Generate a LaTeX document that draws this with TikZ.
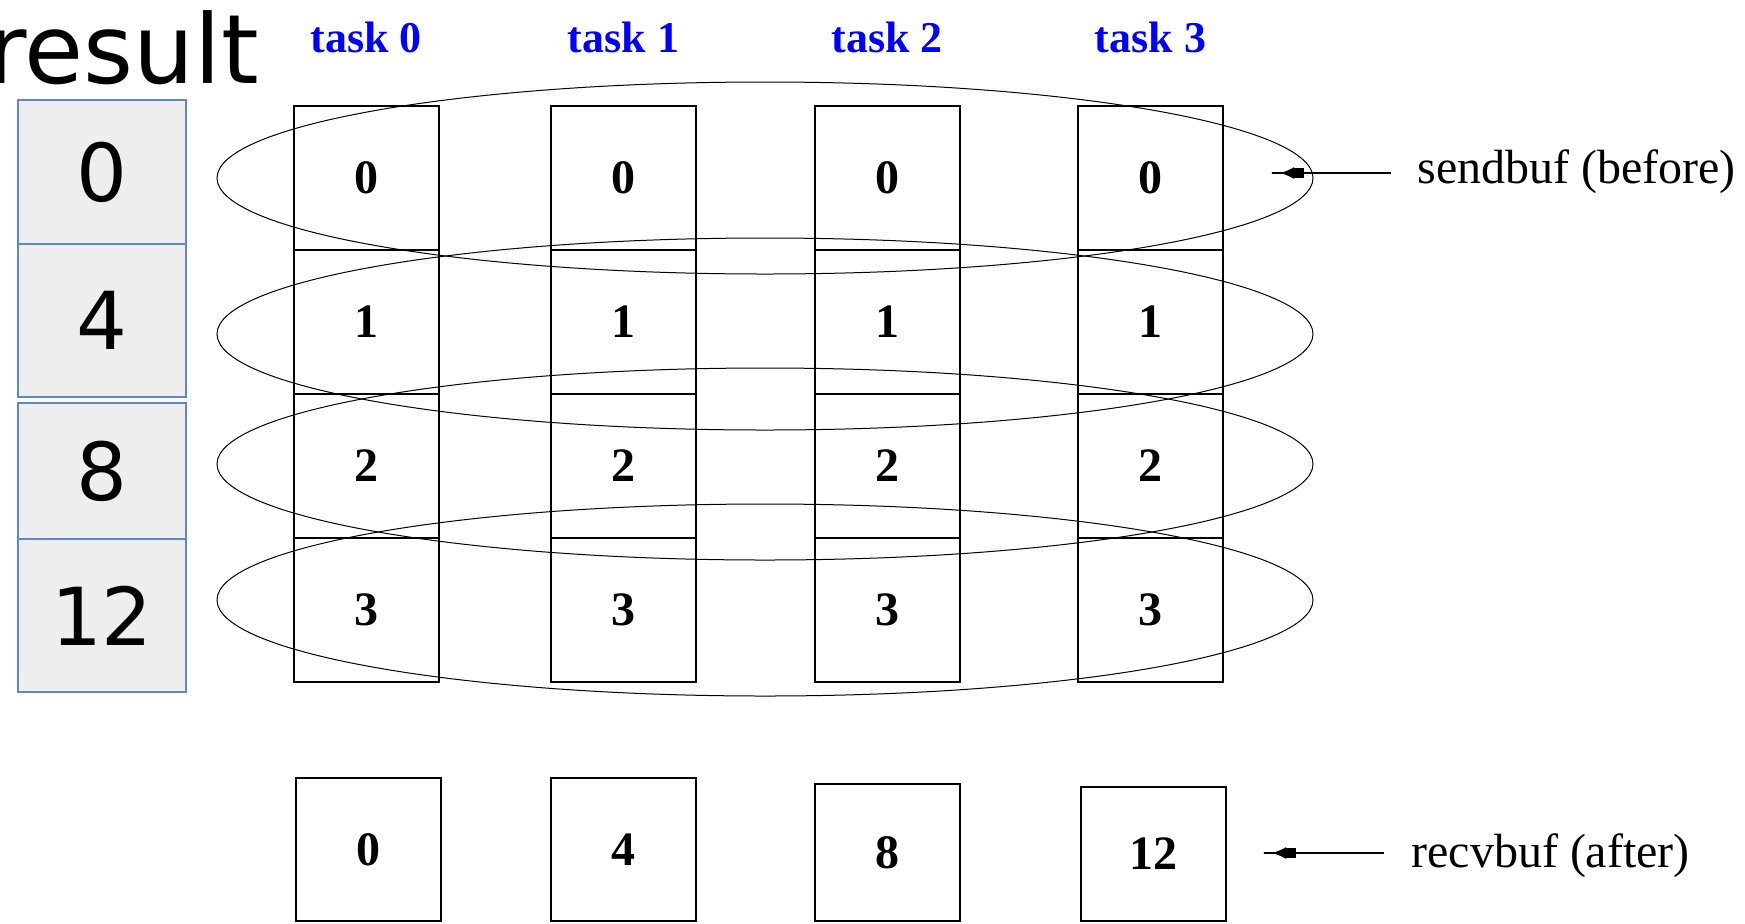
\documentclass[tikz,border=0pt]{standalone}
\usepackage{fontspec}
\setmainfont{Liberation Serif}
\newfontfamily\dejavu{DejaVu Sans}
\usetikzlibrary{arrows.meta}
\definecolor{cellfill}{RGB}{238,238,238}
\definecolor{celledge}{RGB}{95,135,200}
\definecolor{tasklabel}{RGB}{0,0,255}
\tikzset{
  buf/.style={draw=black, line width=1pt, minimum width=72.5pt, minimum height=72pt,
    inner sep=0pt, font=\bfseries\fontsize{24pt}{28pt}\selectfont},
  rescell/.style={draw=celledge, fill=cellfill, line width=0.7pt, minimum width=84pt,
    inner sep=0pt, font=\dejavu\fontsize{40pt}{46pt}\selectfont},
  tasktitle/.style={anchor=base, inner sep=0pt, text=tasklabel,
    font=\bfseries\fontsize{22pt}{26pt}\selectfont},
  note/.style={anchor=base west, inner sep=0pt, font=\fontsize{24pt}{28pt}\selectfont},
  ring/.style={draw=black, line width=0.5pt},
  pointer/.style={draw=black, line width=0.9pt,
    -{Rectangle[length=5pt,width=5pt]Latex[length=7pt,width=6pt]Rectangle[length=4.5pt,width=0.9pt]}}
}
\begin{document}
\begin{tikzpicture}[x=0.5pt,y=-0.5pt]
\useasboundingbox (0,0) rectangle (1745,923);

% heading and the column of reduced values
\node[anchor=base east, inner sep=0pt, font=\dejavu\fontsize{48pt}{56pt}\selectfont] (title) at (259,83) {result};
\node[rescell, minimum height=72pt]   (r0) at (102,172)   {0};
\node[rescell, minimum height=76.5pt] (r1) at (102,320.5) {4};
\node[rescell, minimum height=68pt]   (r2) at (102,471)   {8};
\node[rescell, minimum height=76.5pt] (r3) at (102,615.5) {12};

% task headings
\node[tasktitle] (t0) at (366,52)    {task 0};
\node[tasktitle] (t1) at (623.5,52)  {task 1};
\node[tasktitle] (t2) at (887,52)    {task 2};
\node[tasktitle] (t3) at (1150.5,52) {task 3};

% send buffers, one column per task
\foreach \c/\x in {0/366,1/623.5,2/887,3/1150.5}{
  \foreach \r/\y in {0/178,1/322,2/466,3/609.5}{
    \node[buf] (s\c\r) at (\x,\y) {\r};
  }
}

% rings grouping each row across the tasks
\coordinate (g0) at (765,178);
\coordinate (g1) at (765,334);
\coordinate (g2) at (765,464);
\coordinate (g3) at (765,600);
\foreach \g in {g0,g1,g2,g3}{
  \draw[ring] (\g) ellipse [x radius=274pt, y radius=48pt];
}

% receive buffers
\node[buf, minimum height=71.5pt] (v0) at (368.5,849.5) {0};
\node[buf, minimum height=71.5pt] (v1) at (623.5,849.5) {4};
\node[buf, minimum height=68.5pt] (v2) at (887,852.5)   {8};
\node[buf, minimum height=67pt]   (v3) at (1153,854)    {12};

% buffer notes with pointers
\node[note] (sendlbl) at (1417,183) {sendbuf (before)};
\node[note] (recvlbl) at (1411,867) {recvbuf (after)};
\coordinate (sendtail) at (1391,173);
\coordinate (sendtip)  at (1271,173);
\coordinate (recvtail) at (1384,853);
\coordinate (recvtip)  at (1263,853);
\draw[pointer] (sendtail) -- (sendtip);
\draw[pointer] (recvtail) -- (recvtip);
\end{tikzpicture}
\end{document}
